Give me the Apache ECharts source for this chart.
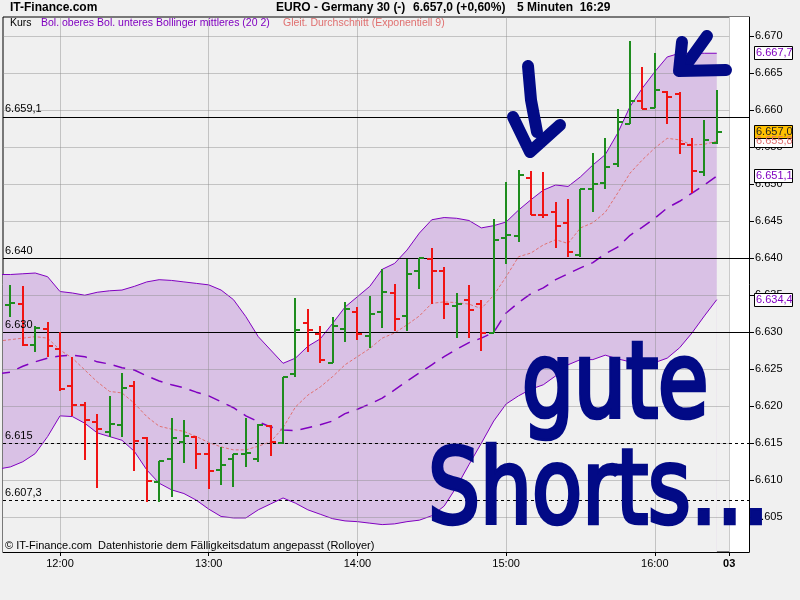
<!DOCTYPE html>
<html><head><meta charset="utf-8">
<script src="https://cdn.jsdelivr.net/npm/echarts@6.0.0/dist/echarts.min.js"></script>
<style>html,body{margin:0;padding:0;background:#F0F0F0;}#c{width:800px;height:600px;}</style>
</head><body><div id="c"></div>
<script>
// ---------- data ----------
const times = ["11:35","11:40","11:45","11:50","11:55","12:00","12:05","12:10","12:15","12:20","12:25","12:30","12:35","12:40","12:45","12:50","12:55","13:00","13:05","13:10","13:15","13:20","13:25","13:30","13:35","13:40","13:45","13:50","13:55","14:00","14:05","14:10","14:15","14:20","14:25","14:30","14:35","14:40","14:45","14:50","14:55","15:00","15:05","15:10","15:15","15:20","15:25","15:30","15:35","15:40","15:45","15:50","15:55","16:00","16:05","16:10","16:15","16:20","16:25"];
const open  = [null,6633.7,6633.8,6628.3,6630.4,6627.7,6622.8,6620.1,6617.9,6616.5,6617.4,6622.8,6615.7,6609.8,6612.9,6615.1,6615.9,6613.6,6611.4,6612.9,6613.6,6612.9,6617.3,6615.0,6624.4,6631.3,6629.7,6625.9,6630.4,6632.8,6629.5,6632.8,6635.3,6632.2,6638.3,6639.9,6638.3,6633.6,6634.3,6633.8,6629.9,6642.7,6643.0,6650.9,6645.9,6646.2,6644.7,6640.4,6649.3,6650.1,6652.7,6658.2,6661.3,6660.3,6662.4,6662.2,6655.3,6651.7,6655.6];
const high  = [null,6636.4,6636.2,6630.8,6631.4,6630.0,6626.7,6620.6,6619.0,6621.4,6624.5,6623.4,6615.9,6612.6,6618.4,6618.1,6616.0,6615.0,6614.5,6613.6,6618.4,6617.6,6617.4,6624.0,6634.6,6633.1,6630.8,6632.0,6634.1,6633.4,6634.9,6638.6,6636.5,6639.9,6640.0,6641.4,6638.8,6635.3,6636.4,6634.3,6645.3,6650.3,6651.9,6651.8,6651.7,6647.6,6648.0,6649.4,6654.2,6656.2,6660.2,6669.3,6665.8,6667.7,6662.6,6662.5,6656.2,6658.7,6662.7];
const low   = [null,6632.1,6628.2,6627.3,6626.7,6622.0,6618.7,6612.8,6609.0,6615.9,6615.8,6611.3,6607.0,6607.0,6607.8,6612.3,6611.5,6608.8,6609.3,6609.1,6611.8,6612.5,6613.3,6614.9,6624.0,6627.3,6625.9,6625.8,6628.7,6628.9,6627.9,6630.6,6630.2,6630.2,6635.9,6633.8,6631.8,6629.2,6629.2,6627.4,6629.9,6639.2,6642.2,6645.8,6645.5,6641.4,6640.1,6640.2,6646.3,6649.4,6652.3,6658.1,6660.2,6660.3,6658.1,6654.1,6648.8,6651.1,6655.5];
const close = [null,6634.0,6628.3,6630.6,6628.1,6622.3,6620.1,6618.1,6616.9,6617.6,6622.4,6615.3,6609.9,6612.6,6615.7,6616.0,6613.6,6611.2,6612.1,6613.6,6613.7,6617.4,6615.1,6624.0,6630.3,6630.3,6626.2,6630.8,6633.1,6629.8,6632.5,6635.5,6631.8,6637.9,6640.0,6638.3,6633.8,6633.8,6633.0,6629.9,6642.4,6643.2,6651.2,6645.8,6645.8,6644.4,6640.8,6649.3,6650.0,6652.3,6658.4,6661.2,6660.2,6662.7,6661.8,6655.5,6651.8,6656.0,6657.0];
const bollUpper  = [6637.8,6637.8,6637.9,6638.0,6637.5,6635.5,6635.3,6635.0,6635.4,6635.6,6635.7,6636.2,6636.8,6637.1,6637.0,6636.8,6636.6,6636.4,6635.7,6634.4,6632.1,6629.4,6627.6,6625.8,6626.5,6628.1,6629.1,6631.2,6633.4,6634.8,6636.2,6638.5,6639.3,6641.1,6643.4,6645.2,6645.5,6645.4,6645.1,6644.1,6644.4,6644.9,6646.5,6647.9,6649.2,6649.9,6649.7,6651.0,6652.6,6654.0,6656.9,6660.5,6663.0,6665.2,6667.2,6667.7,6667.7,6667.7,6667.7];
const bollMiddle = [6624.4,6624.6,6625.4,6626.0,6626.5,6626.8,6626.9,6626.7,6626.0,6625.7,6625.2,6624.9,6624.1,6623.4,6622.9,6622.5,6621.9,6621.4,6620.6,6619.8,6618.7,6617.9,6617.2,6616.8,6616.7,6617.1,6617.5,6618.0,6619.0,6619.6,6620.3,6621.1,6622.2,6623.4,6624.5,6625.6,6626.7,6627.7,6628.6,6629.2,6630.0,6632.6,6634.0,6635.2,6636.0,6637.1,6637.9,6638.7,6639.4,6640.6,6641.5,6643.1,6644.2,6645.4,6646.8,6647.7,6648.8,6649.9,6651.1];
const bollLower  = [6611.5,6611.8,6612.5,6613.6,6615.9,6618.7,6618.6,6617.7,6616.4,6615.9,6615.4,6613.9,6611.4,6609.6,6608.7,6608.2,6607.3,6606.1,6605.1,6604.9,6604.9,6606.0,6606.8,6607.6,6606.9,6606.0,6605.4,6604.8,6604.5,6604.4,6604.2,6604.0,6604.1,6604.4,6604.6,6605.2,6606.5,6609.1,6612.1,6615.0,6618.0,6620.3,6621.4,6622.3,6622.9,6624.1,6625.6,6626.3,6626.3,6626.9,6626.4,6626.0,6625.7,6625.9,6626.5,6627.9,6629.9,6632.2,6634.4];
const ema9       = [6628.8,6629.0,6629.2,6629.4,6629.2,6627.6,6626.5,6624.9,6623.3,6622.0,6621.8,6620.4,6618.6,6617.3,6616.9,6616.6,6615.9,6615.1,6614.5,6614.1,6614.1,6614.6,6615.2,6617.1,6619.9,6621.5,6622.6,6624.0,6625.6,6626.7,6627.8,6629.2,6629.9,6631.0,6632.2,6633.9,6634.1,6634.0,6633.8,6633.2,6635.0,6637.5,6640.2,6640.7,6641.8,6642.5,6642.0,6644.1,6644.8,6646.2,6648.8,6651.5,6653.3,6654.9,6656.2,6656.0,6655.3,6655.4,6655.8];
const yTicks = [6605,6610,6615,6620,6625,6630,6635,6640,6645,6650,6655,6660,6665,6670];
const xTickTimes = ["12:00","13:00","14:00","15:00","16:00","16:30"];
const xTickLabels = ["12:00","13:00","14:00","15:00","16:00","03"];
const levelValues = [6659.1, 6640, 6630, 6615, 6607.3];
const levelLabels = ["6.659,1","6.640","6.630","6.615","6.607,3"];
const levelDashed = [false,false,false,true,true];

// ---------- helpers ----------
const toMin = s => { const p = s.split(':'); return (+p[0])*60 + (+p[1]); };
const X_MIN = 697, X_MAX = 998, Y_MIN = 6600.3, Y_MAX = 6672.6;
const DAYBREAK = toMin("16:30");
const FONT = '"Liberation Sans", Arial, sans-serif';
const PURPLE = '#8000C0', FILL = '#D9C1E5', BG = '#F0F0F0', NAVY = '#020A86';
const GREEN = '#1E8C1E', RED = '#F01414';
function de(v, dec) {
  const neg = v < 0; v = Math.abs(v);
  const fixed = v.toFixed(dec);
  let [ip, fp] = fixed.split('.');
  ip = ip.replace(/\B(?=(\d{3})+(?!\d))/g, '.');
  return (neg?'-':'') + ip + (fp ? ',' + fp : '');
}
const pair = (arr) => times.map((t,i) => [toMin(t), arr[i]]);
const ohlcData = [];
times.forEach((t,i) => { if (open[i] != null) ohlcData.push([toMin(t), open[i], high[i], low[i], close[i]]); });
const xTickVals = xTickTimes.map(toMin);

function renderOHLC(params, api) {
  const t = api.value(0), o = api.value(1), h = api.value(2), l = api.value(3), c = api.value(4);
  const ph = api.coord([t,h]), pl = api.coord([t,l]), po = api.coord([t,o]), pc = api.coord([t,c]);
  const x = Math.round(ph[0]);
  const st = {stroke: c >= o ? GREEN : RED, lineWidth: 2};
  const yo = Math.round(po[1]), yc = Math.round(pc[1]);
  return {type:'group', children:[
    {type:'line', shape:{x1:x, y1:Math.round(ph[1]), x2:x, y2:Math.round(pl[1])}, style:st},
    {type:'line', shape:{x1:x-5, y1:yo, x2:x, y2:yo}, style:st},
    {type:'line', shape:{x1:x, y1:yc, x2:x+5, y2:yc}, style:st}
  ]};
}

const chart = echarts.init(document.getElementById('c'), null, {renderer:'canvas'});
const gridLines = [];
yTicks.forEach(v => gridLines.push([{coord:[X_MIN, v]}, {coord:[DAYBREAK, v]}]));
xTickVals.forEach(t => gridLines.push([{coord:[t, Y_MIN]}, {coord:[t, Y_MAX]}]));

const option = {
  animation: false,
  backgroundColor: BG,
  grid: {left: 3, right: 51, top: 17, bottom: 48, show: true, backgroundColor: BG, borderColor: '#000', borderWidth: 1},
  xAxis: {
    type: 'value', min: X_MIN, max: X_MAX,
    splitLine: {show:false},
    axisLine: {show:true, lineStyle:{color:'#000', width:1}},
    axisTick: {show:true, customValues: xTickVals, length: 4, lineStyle:{color:'#000'}},
    axisLabel: {customValues: xTickVals, margin: 6, color:'#000', fontSize: 11, fontFamily: FONT,
      formatter: v => { const i = xTickVals.indexOf(v); const s = i >= 0 ? xTickLabels[i] : ''; return v === DAYBREAK ? '{b|' + s + '}' : s; },
      rich: {b: {fontWeight:'bold', fontSize: 11, fontFamily: FONT, color:'#000'}}}
  },
  yAxis: {
    type: 'value', position: 'right', min: Y_MIN, max: Y_MAX, scale: true,
    splitLine: {show:false},
    axisLine: {show:true, lineStyle:{color:'#000', width:1}},
    axisTick: {show:true, customValues: yTicks, length: 5, lineStyle:{color:'#000'}},
    axisLabel: {customValues: yTicks, margin: 6, color:'#000', fontSize: 11, fontFamily: FONT, formatter: v => de(v, 0)}
  },
  series: [
    { // future area (white)
      type:'line', z:0, data:[[X_MIN, Y_MIN]], symbol:'none', lineStyle:{opacity:0}, silent:true,
      markArea:{silent:true, itemStyle:{color:'#FFFFFF'}, data:[[{xAxis: DAYBREAK}, {xAxis: X_MAX}]]}
    },
    { // band fill (upper down to bottom)
      type:'line', z:1, data: pair(bollUpper), symbol:'none', silent:true,
      lineStyle:{width:0, opacity:0}, areaStyle:{color: FILL, opacity:1, origin:'start'}
    },
    { // mask below lower band
      type:'line', z:1, data: pair(bollLower), symbol:'none', silent:true,
      lineStyle:{width:0, opacity:0}, areaStyle:{color: BG, opacity:1, origin:'start'}
    },
    { // grid lines
      type:'line', z:2, data:[[X_MIN, Y_MIN]], symbol:'none', lineStyle:{opacity:0}, silent:true,
      markLine:{silent:true, symbol:['none','none'], label:{show:false}, animation:false,
        lineStyle:{color:'rgba(140,140,140,0.45)', width:1, type:'solid'}, data: gridLines}
    },
    { // level lines
      type:'line', z:3, data:[[X_MIN, Y_MIN]], symbol:'none', lineStyle:{opacity:0}, silent:true,
      markLine:{silent:true, symbol:['none','none'], animation:false,
        data: levelValues.map((v,i) => ({yAxis: v,
          lineStyle:{color:'#000', width:1, type: levelDashed[i] ? [3,3] : 'solid'},
          label:{show:true, position:'insideStartTop', formatter: levelLabels[i], color:'#000', fontSize:11, fontFamily:FONT, distance:[2,2]}}))}
    },
    {name:'Bol. oberes', type:'line', z:4, data: pair(bollUpper), symbol:'none', lineStyle:{color:PURPLE, width:1}},
    {name:'Bol. unteres', type:'line', z:4, data: pair(bollLower), symbol:'none', lineStyle:{color:PURPLE, width:1}},
    {name:'Bollinger mittleres (20 2)', type:'line', z:4, data: pair(bollMiddle), symbol:'none', lineStyle:{color:PURPLE, width:1.5, type:[12,8]}},
    {name:'Gleit. Durchschnitt (Exponentiell 9)', type:'line', z:4, data: pair(ema9), symbol:'none', lineStyle:{color:'#E07070', width:1, type:[3,2]}},
    {name:'Kurs', type:'custom', z:5, renderItem: renderOHLC, data: ohlcData, encode:{x:0, y:[1,2,3,4]}, clip:true}
  ]
};
chart.setOption(option);

// ---------- text & annotations ----------
const gfx = [];
const txt = (x, y, s, font, fill, extra) => gfx.push(Object.assign({type:'text', x, y, z:100, style:{text:s, font, fill, verticalAlign:'middle', align:'left'}}, extra||{}));
txt(10, 8, 'IT-Finance.com', 'bold 12px ' + FONT, '#000');
txt(276, 8, 'EURO - Germany 30 (-)', 'bold 12px ' + FONT, '#000');
txt(413, 8, de(close[close.length-1],1) + ' (+0,60%)', 'bold 12px ' + FONT, '#000');
txt(517, 8, '5 Minuten  16:29', 'bold 12px ' + FONT, '#000');
txt(10, 23, 'Kurs', '10.5px ' + FONT, '#000');
txt(41, 23, 'Bol. oberes Bol. unteres Bollinger mittleres (20 2)', '10.5px ' + FONT, PURPLE);
txt(283, 23, 'Gleit. Durchschnitt (Exponentiell 9)', '10.5px ' + FONT, '#E07070');
txt(5, 546, '\u00A9 IT-Finance.com  Datenhistorie dem F\u00E4lligkeitsdatum angepasst (Rollover)', '11px ' + FONT, '#000');

// hand-written annotation
const handStyle = (s, size) => ({text:s, font: size + 'px "DejaVu Sans"', fill:NAVY, stroke:NAVY, lineWidth:3.5, lineJoin:'round', verticalAlign:'middle', align:'left'});
gfx.push({type:'text', x:522, y:390, z:110, scaleX:1.05, scaleY:1.35, style: handStyle('gute', 78)});
gfx.push({type:'text', x:428, y:496, z:110, scaleY:1.25, style: handStyle('Shorts...', 82)});
const arrowStyle = {stroke:NAVY, lineWidth:12, lineCap:'round', lineJoin:'round', fill:null};
gfx.push({type:'polyline', z:110, shape:{points:[[528,66],[531,100],[537,132]]}, style:arrowStyle});
gfx.push({type:'polyline', z:110, shape:{points:[[513,117],[530,152],[560,125]]}, style:arrowStyle});
gfx.push({type:'polyline', z:110, shape:{points:[[707,36],[684,68]]}, style:arrowStyle});
gfx.push({type:'polyline', z:110, shape:{points:[[682,42],[679,71],[726,70]]}, style:arrowStyle});

// right-hand value boxes
const boxes = [
  {v: bollLower[bollLower.length-1], fg: PURPLE, bg:'#FFFFFF'},
  {v: bollMiddle[bollMiddle.length-1], fg: PURPLE, bg:'#FFFFFF'},
  {v: ema9[ema9.length-1], fg:'#E07070', bg:'#FFFFFF'},
  {v: close[close.length-1], fg:'#222', bg:'#FFC000'},
  {v: bollUpper[bollUpper.length-1], fg: PURPLE, bg:'#FFFFFF'}
];
boxes.forEach(b => {
  const p = chart.convertToPixel({xAxisIndex:0, yAxisIndex:0}, [X_MAX, b.v]);
  const yc = Math.round(p[1]);
  gfx.push({type:'rect', z:120, shape:{x:754.5, y:yc-6.5, width:38, height:13}, style:{fill:b.bg, stroke:'#000', lineWidth:1}});
  gfx.push({type:'text', x:756, y:yc, z:121, style:{text: de(b.v,1), font:'11px ' + FONT, fill:b.fg, verticalAlign:'middle', align:'left'}});
});
chart.setOption({graphic: gfx});
</script></body></html>
